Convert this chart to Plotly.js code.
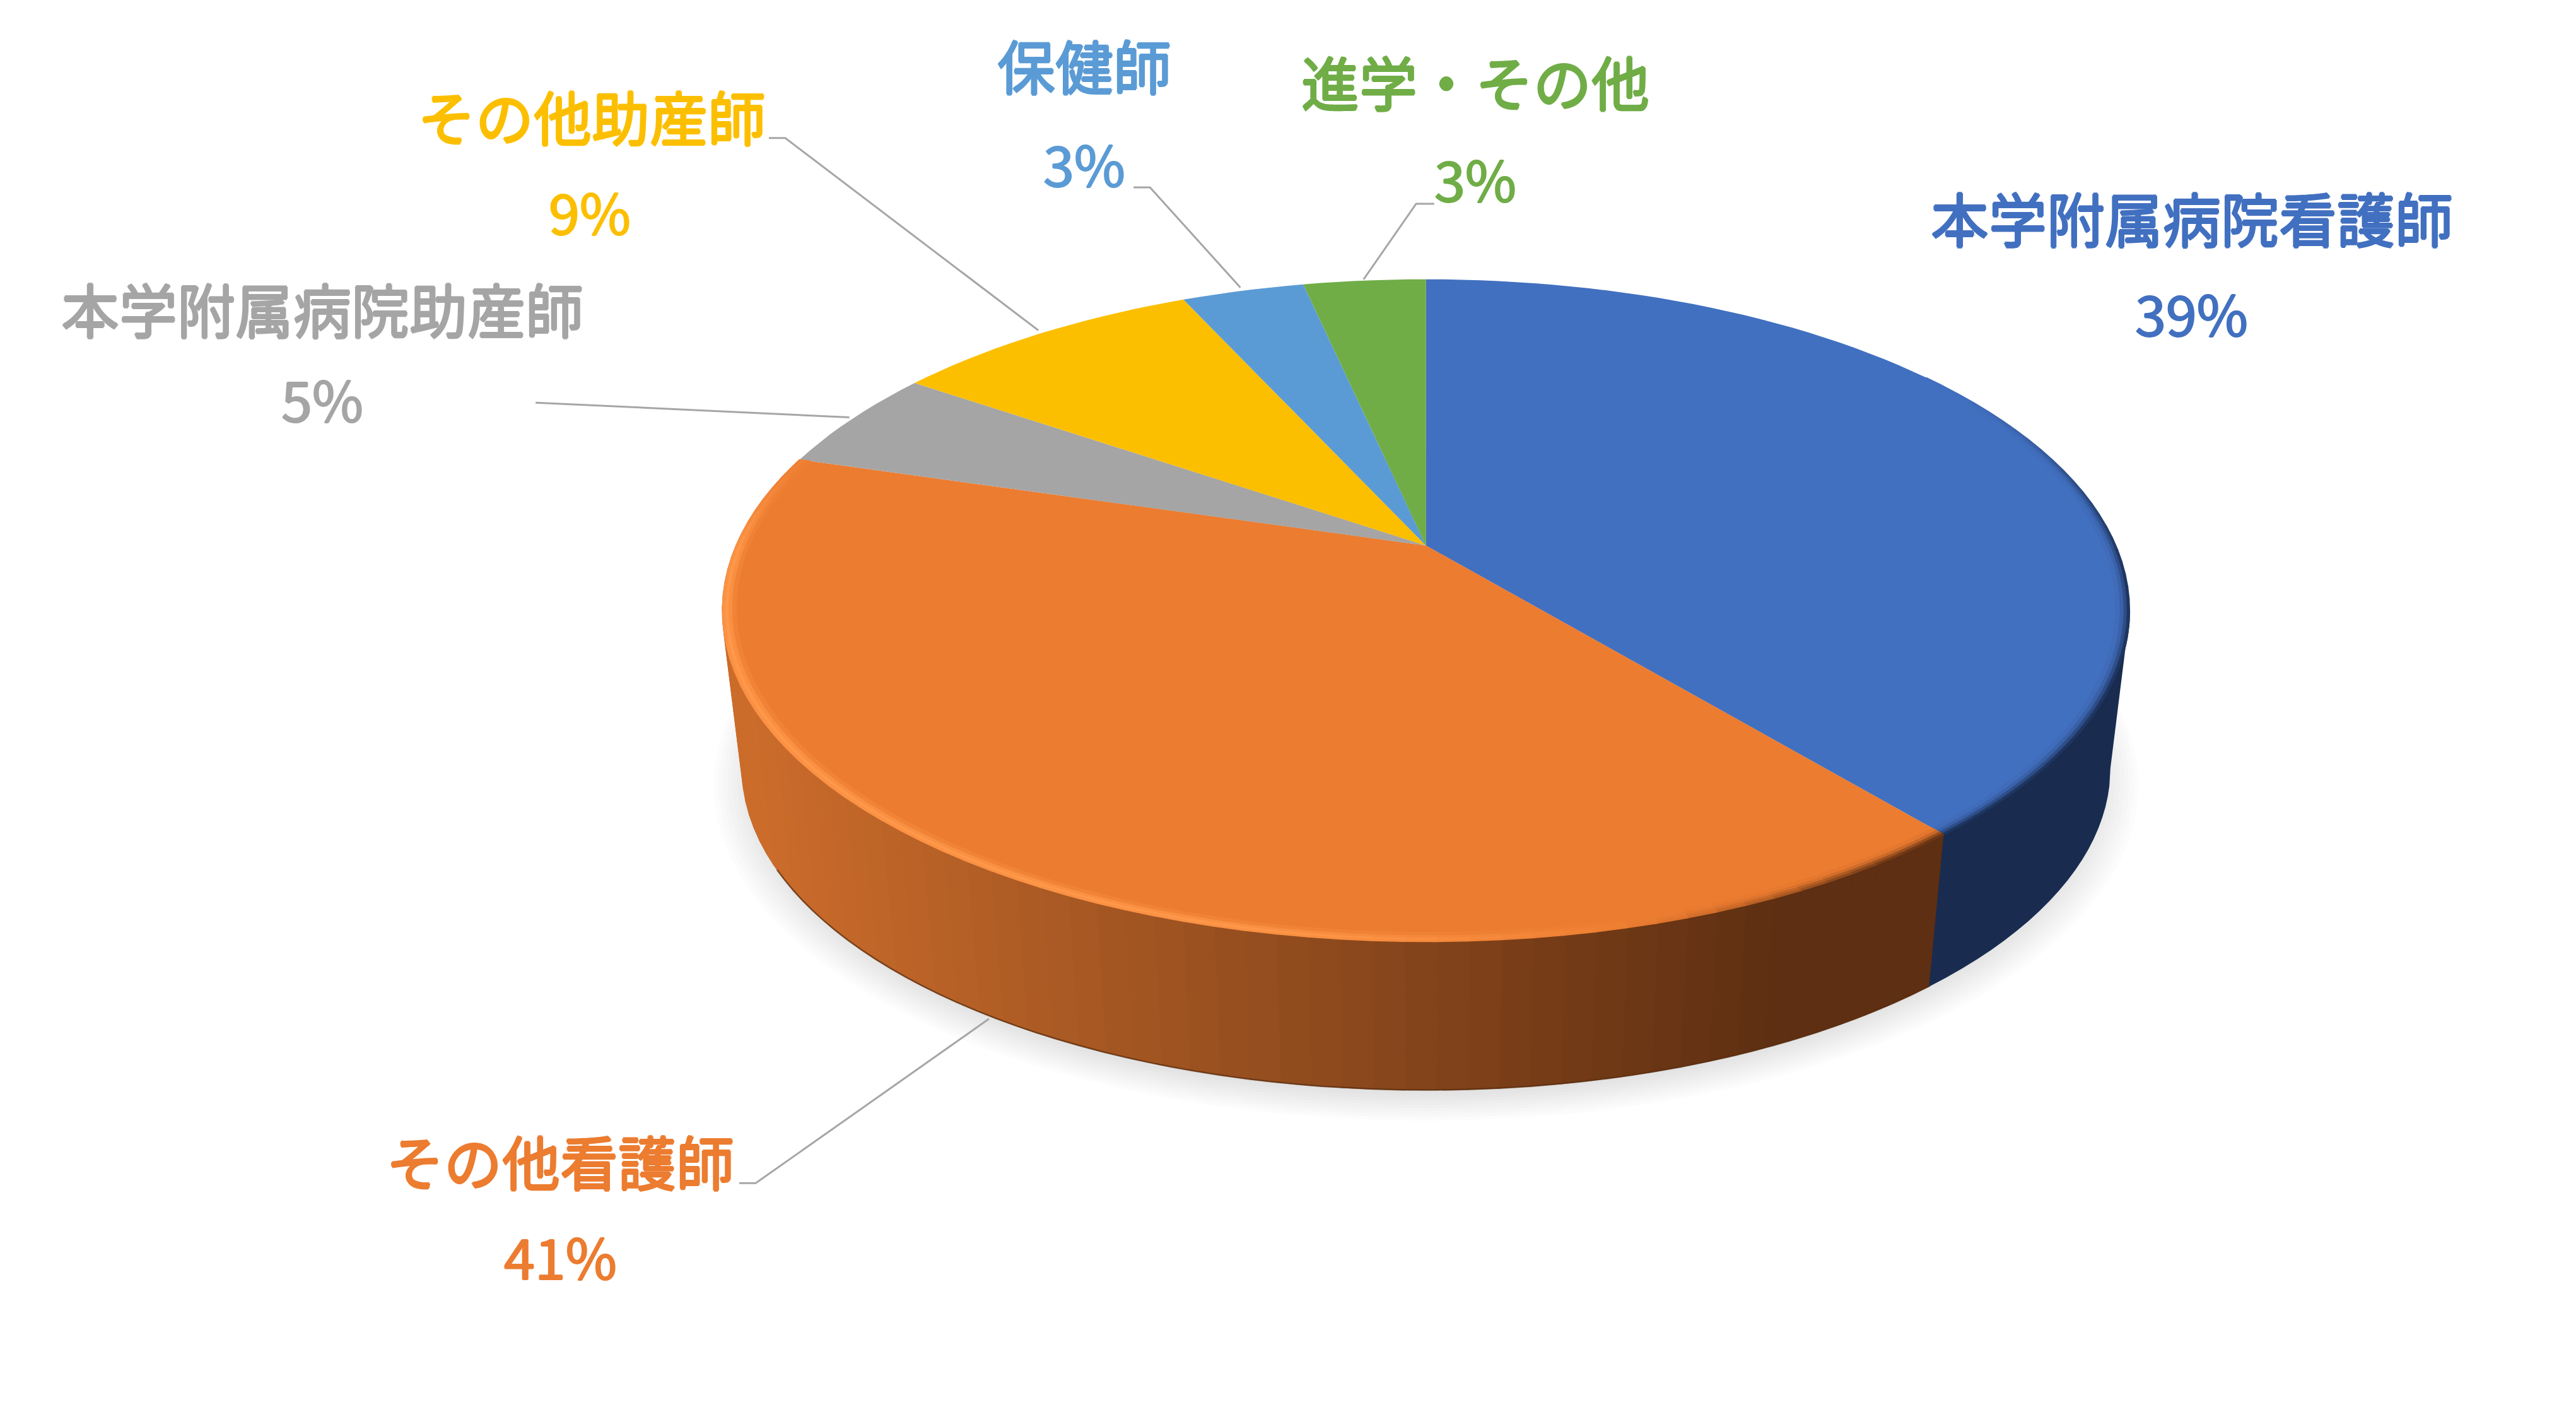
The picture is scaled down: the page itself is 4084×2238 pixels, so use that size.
<!DOCTYPE html>
<html><head><meta charset="utf-8">
<script src="https://cdn.plot.ly/plotly-3.0.1.min.js"></script>
<style>html,body{margin:0;padding:0;background:#fff}</style></head>
<body><div id="chart" style="width:4084px;height:2238px"></div>
<script>
// ---- data ----
const categories = ['本学附属病院看護師','その他看護師','本学附属病院助産師','その他助産師','保健師','進学・その他'];
const values = [39.0, 40.6, 5.0, 8.6, 3.4, 3.4];
const colors = ['#4270C0','#EC7C30','#A5A5A5','#FCBF00','#5B9BD5','#70AD47'];
// ---- label placement ----
const labelNameXY = [[1334,132],[341,706],[196,187],[360,70],[660,39],[898,49]];
const labelPctXY  = [[1334,190],[341,764],[196,242],[359,128],[660,99],[898,108]];
const leaders = [null,
  [[450,720],[460,720],[602,620]],
  [[326,245],[517,254]],
  [[468,84],[478,84],[632,201]],
  [[690,114],[700,114],[755,175]],
  [[873,124],[862,124],[830,170]]];

const S = 4084/1568;
const total = values.reduce((a,b)=>a+b,0);
const cum = [0]; values.forEach(v=>cum.push(cum[cum.length-1]+v/total));
const K=0.196, A=420, B=193.8, CX=868, TOPY=332, BASEY=429, BASES=0.972;

function proj(f,r,cy,s){
  const th=2*Math.PI*f, u=Math.sin(th)*r, v=-Math.cos(th)*r, d=1-K*v;
  return [(CX+s*A*u/d)*S,(cy+s*B*v/d)*S];
}
const top_=(f,r=1)=>proj(f,r,TOPY,1);
const base=(f,r=1)=>proj(f,r,BASEY,BASES);
const traces=[];
function poly(pts,fill,lineColor){
  traces.push({type:'scatter',mode:'lines',x:pts.map(p=>p[0]),y:pts.map(p=>p[1]),fill:'toself',fillcolor:fill,
    line:{color:lineColor||'rgba(0,0,0,0)',width:lineColor?1.5:0},hoverinfo:'skip',showlegend:false});
}
function polyline(pts,color,w){
  traces.push({type:'scatter',mode:'lines',x:pts.map(p=>p[0]),y:pts.map(p=>p[1]),
    line:{color:color,width:w},hoverinfo:'skip',showlegend:false});
}
const rgb=c=>`rgb(${c.map(Math.round).join(',')})`;
const mix=(a,b,t)=>a.map((x,i)=>x+(b[i]-x)*t);
const smooth=(a,b,x)=>{const t=Math.min(1,Math.max(0,(x-a)/(b-a)));return t*t*(3-2*t);};
const hex=h=>[1,3,5].map(i=>parseInt(h.substr(i,2),16));

// shadow
const N=12;
for(let i=0;i<N;i++){
  const r=1.04-i*0.0065, pts=[];
  for(let j=0;j<=120;j++){pts.push(proj(j/120,r,BASEY+7,BASES));}
  poly(pts,'rgba(0,0,0,0.0105)');
}
// side walls
const WALLBLUE=[25,44,80], WL=[203,108,43], WR=[94,47,18];
function wallColor(x){const t=Math.min(1,Math.max(0,(x/S-455)/(1080-455)));return mix(WL,WR,t);}
const step=0.006;
for(let f=cum[1];f<cum[2];f+=step){
  const g=Math.min(f+step,cum[2]);
  const q=[top_(f),top_(g),base(g),base(f),top_(f)];
  const c=rgb(wallColor((q[0][0]+q[1][0])/2));
  poly(q,c,c);
}
// blue wall: starts at the silhouette tangent of the rim
{const F0=0.25+Math.asin(K)/(2*Math.PI);
 const pts=[];for(let f=F0;f<cum[1];f+=0.005)pts.push(top_(f));pts.push(top_(cum[1]));
 const p2=[base(cum[1])];for(let f=cum[1]-0.005;f>F0;f-=0.005)p2.push(base(f));p2.push(base(F0));
 poly(pts.concat(p2,[pts[0]]),rgb(WALLBLUE),rgb(WALLBLUE));}
// dark bottom edge of orange wall
{const pts=[];for(let f=cum[1];f<=0.675;f+=0.005)pts.push(base(f,1));polyline(pts,'rgba(90,45,15,0.7)',2.5);}

// top faces
values.forEach((v,i)=>{
  const pts=[[CX*S,TOPY*S]];
  const n=Math.max(6,Math.ceil(v*2));
  for(let j=0;j<=n;j++)pts.push(top_(cum[i]+(cum[i+1]-cum[i])*j/n));
  pts.push(pts[0]);
  poly(pts,colors[i]);
});
// rim bevel: soft band from the face colour to the edge colour
const FB=hex(colors[0]),FO=hex(colors[1]),HI=[255,152,74];
const radii=[1,0.9955,0.991,0.986,0.981];
const bstep=0.006;
function rimBand(f0,f1,edgeFn){
  for(let f=f0;f<f1-1e-9;f+=bstep){
    const g=Math.min(f+bstep,f1),m=(f+g)/2;
    const e=edgeFn(m);
    for(let l=0;l<radii.length-1;l++){
      const c=e.col(l);
      const q=[top_(f,radii[l]),top_(g,radii[l]),top_(g,radii[l+1]),top_(f,radii[l+1])];q.push(q[0]);
      poly(q,rgb(c),rgb(c));
    }
  }
}
rimBand(0.15,cum[1],m=>{
  const s=smooth(0.15,0.27,m);
  const prof=[0.85,0.5,0.2,0.06];
  return {col:l=>mix(FB,WALLBLUE,prof[l]*s)};
});
rimBand(cum[1],cum[2],m=>{
  const dark=1-smooth(cum[1],0.47,m);
  const bright=smooth(0.44,0.54,m)*(1-smooth(0.74,cum[2],m)*0.8);
  const profD=[0.9,0.6,0.25,0.06], profB=[0.75,1,0.7,0.25];
  return {col:l=>{
    const c=mix(FO,HI,profB[l]*bright);
    return mix(c,WR,profD[l]*dark);
  }};
});
// leader lines
leaders.forEach(l=>{if(l)polyline(l.map(p=>[p[0]*S,p[1]*S]),'#A6A6A6',3);});

const FONT='"Noto Sans CJK JP","Noto Sans",sans-serif';
const thick=(c,d)=>`${d}px 0 0 ${c},-${d}px 0 0 ${c},0 ${d}px 0 ${c},0 -${d}px 0 ${c}`;
const ann=[];
categories.forEach((c,i)=>{
  const nameFont={family:FONT,size:92,color:colors[i],weight:400,shadow:thick(colors[i],1.6)};
  const pctFont={family:FONT,size:88,color:colors[i],weight:400,shadow:thick(colors[i],1.2)};
  ann.push({x:labelNameXY[i][0]*S,y:labelNameXY[i][1]*S,text:c,showarrow:false,xanchor:'center',yanchor:'middle',font:nameFont});
  ann.push({x:labelPctXY[i][0]*S,y:labelPctXY[i][1]*S,text:Math.round(values[i])+'%',showarrow:false,xanchor:'center',yanchor:'middle',font:pctFont});
});
Plotly.newPlot('chart',traces,{
  width:4084,height:2238,margin:{l:0,r:0,t:0,b:0},paper_bgcolor:'#fff',plot_bgcolor:'#fff',showlegend:false,
  xaxis:{range:[0,4084],visible:false,fixedrange:true},
  yaxis:{range:[2238,0],visible:false,fixedrange:true},
  annotations:ann
},{displayModeBar:false,staticPlot:true});
</script></body></html>
